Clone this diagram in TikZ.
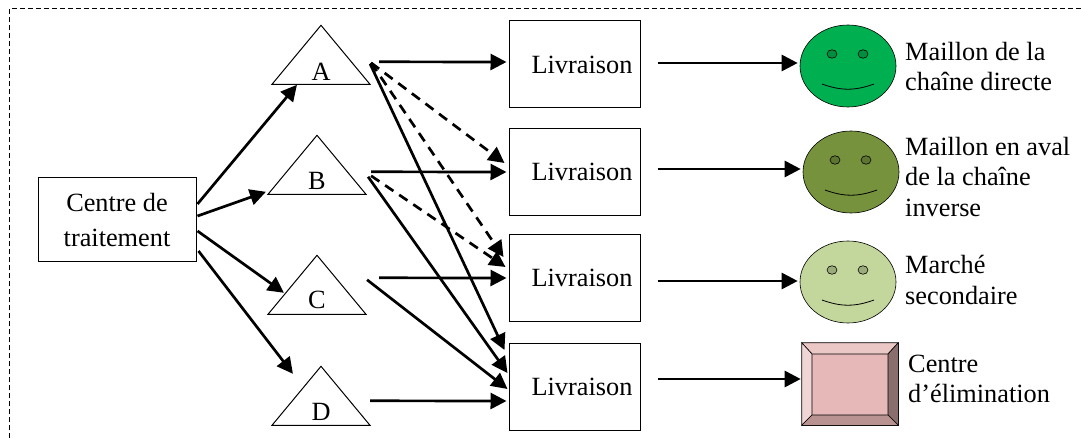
\documentclass[tikz,border=0pt]{standalone}
\usepackage{fontspec}
\setmainfont{Liberation Serif}
\usetikzlibrary{arrows.meta,positioning,calc,shapes.geometric}
\tikzset{>={Triangle[length=16pt,width=16pt]}}
\definecolor{facegreen}{HTML}{00B050}
\definecolor{eyegreen}{HTML}{008D40}
\definecolor{faceolive}{HTML}{76923C}
\definecolor{eyeolive}{HTML}{5E7530}
\definecolor{facepale}{HTML}{C3D69B}
\definecolor{eyepale}{HTML}{9CAB7C}
\definecolor{elimface}{HTML}{E6B9B8}
\definecolor{elimtop}{HTML}{EBC7C6}
\definecolor{elimleft}{HTML}{F0D5D5}
\definecolor{elimright}{HTML}{8A6E6E}
\definecolor{elimbottom}{HTML}{B89392}
\tikzset{
  box/.style={draw,line width=1pt,inner sep=0pt,align=center,font=\fontsize{26.3}{35}\selectfont},
  tri/.style={draw,line width=1pt,isosceles triangle,isosceles triangle stretches,shape border rotate=90,inner sep=0pt,minimum width=98pt,minimum height=59pt,anchor=apex},
  letter/.style={inner sep=0pt,font=\fontsize{26.3}{30}\selectfont},
  face/.style={draw,line width=0.6pt,ellipse,inner sep=0pt,minimum width=96pt,minimum height=82pt},
  eye/.style={draw,line width=0.6pt,ellipse,inner sep=0pt,minimum width=10pt,minimum height=8.5pt},
  txt/.style={anchor=west,inner sep=0pt,align=left,font=\fontsize{26.3}{30.5}\selectfont},
  flow/.style={->,line width=2.7pt},
  flowdash/.style={->,line width=2.7pt,dash pattern=on 10pt off 7pt},
}

\begin{document}
\begin{tikzpicture}[x=1pt,y=-1pt]
\useasboundingbox (0,0) rectangle (1081,438);

\coordinate (frame bl) at (9,438);
\coordinate (frame tl) at (9,9);
\coordinate (frame tr) at (1081,9);
\draw[line width=1pt,dash pattern=on 5pt off 3pt] (frame bl) -- (frame tl) -- (frame tr);

\node [box,minimum width=158pt,minimum height=84pt] (ctr) at (117,220) {Centre de\\traitement};

\node [tri] (a) at (321,24) {};
\node [tri] (b) at (317,134) {};
\node [tri] (c) at (317,254) {};
\node [tri] (d) at (321,365) {};
\node [letter] (la) at (321,72) {A};
\node [letter] (lb) at (317,181) {B};
\node [letter] (lc) at (317,300) {C};
\node [letter] (ld) at (321,412) {D};

\node [box,minimum width=131pt,minimum height=87pt] (liv1) at (574.5,64.5) {\hspace*{15pt}Livraison};
\node [box,minimum width=131pt,minimum height=87pt] (liv2) at (574.5,172) {\hspace*{15pt}Livraison};
\node [box,minimum width=131pt,minimum height=87pt] (liv3) at (574.5,278) {\hspace*{15pt}Livraison};
\node [box,minimum width=131pt,minimum height=87pt] (liv4) at (574.5,386.5) {\hspace*{15pt}Livraison};

\node [face,fill=facegreen] (f1) at (848,66) {};
\node [eye,fill=eyegreen] (f1l) at (832,54) {};
\node [eye,fill=eyegreen] (f1r) at (863,54) {};
\draw[line width=0.8pt] ($(f1)+(-26,18)$) coordinate (m1a) to[bend right=20] ($(f1)+(26,18)$) coordinate (m1b);

\node [face,fill=faceolive] (f2) at (851,172) {};
\node [eye,fill=eyeolive] (f2l) at (835,160) {};
\node [eye,fill=eyeolive] (f2r) at (866,160) {};
\draw[line width=0.8pt] ($(f2)+(-26,18)$) coordinate (m2a) to[bend right=20] ($(f2)+(26,18)$) coordinate (m2b);

\node [face,fill=facepale] (f3) at (848,282) {};
\node [eye,fill=eyepale] (f3l) at (832,270) {};
\node [eye,fill=eyepale] (f3r) at (863,270) {};
\draw[line width=0.8pt] ($(f3)+(-26,18)$) coordinate (m3a) to[bend right=20] ($(f3)+(26,18)$) coordinate (m3b);

\node [draw,line width=0.6pt,fill=elimface,inner sep=0pt,minimum width=96pt,minimum height=82pt] (elim) at (850,384) {};
\coordinate (in nw) at (812,354);
\coordinate (in ne) at (888,354);
\coordinate (in se) at (888,415);
\coordinate (in sw) at (812,415);
\filldraw[fill=elimtop,line width=0.6pt] (elim.north west) -- (elim.north east) -- (in ne) -- (in nw) -- cycle;
\filldraw[fill=elimleft,line width=0.6pt] (elim.north west) -- (in nw) -- (in sw) -- (elim.south west) -- cycle;
\filldraw[fill=elimright,line width=0.6pt] (elim.north east) -- (in ne) -- (in se) -- (elim.south east) -- cycle;
\filldraw[fill=elimbottom,line width=0.6pt] (elim.south west) -- (in sw) -- (in se) -- (elim.south east) -- cycle;

\node [txt] (t1) at (905,66.5) {Maillon de la\\chaîne directe};
\node [txt] (t2) at (905,177) {Maillon en aval\\de la chaîne\\inverse};
\node [txt] (t3) at (905,280) {Marché\\secondaire};
\node [txt] (t4) at (908,379) {Centre\\d’élimination};

\begin{scope}[line width=2.7pt]
\draw[flow] ([shift={(1,-16)}]ctr.east) to ([shift={(26,0)}]a.left corner);
\draw[flow] ([shift={(1,-4)}]ctr.east) to ([shift={(-1,-3)}]b.left corner);
\draw[flow] ([shift={(1,11)}]ctr.east) to ([shift={(17,-22)}]c.left corner);
\draw[flow] ([shift={(2,31)}]ctr.east) to ([shift={(22,-52)}]d.left corner);

\draw[flow] ([shift={(8,-23)}]a.right corner) to ([shift={(-2,-2.5)}]liv1.west);
\draw[flow] ([shift={(4,-23)}]b.right corner) to ([shift={(-2,0)}]liv2.west);
\draw[flow] ([shift={(12,-37)}]c.right corner) to ([shift={(-2,0)}]liv3.west);
\draw[flow] ([shift={(-1,-25)}]d.right corner) to ([shift={(-2,14.5)}]liv4.west);

\draw[flow] ([shift={(17,-1.5)}]liv1.east) to ([shift={(-2,-3)}]f1.west);
\draw[flow] ([shift={(17,-3)}]liv2.east) to ([shift={(-2,-3)}]f2.west);
\draw[flow] ([shift={(17,3)}]liv3.east) to ([shift={(-2,-1)}]f3.west);
\draw[flow] ([shift={(17,-7.5)}]liv4.east) to ([shift={(-1,-5)}]elim.west);

\draw[flowdash] ([shift={(0,-22)}]a.right corner) to ([shift={(-4,-9)}]liv2.west);
\draw[flowdash] ([shift={(0,-22)}]a.right corner) to ([shift={(-5,-21)}]liv3.west);
\draw[flowdash] ([shift={(4,-19)}]b.right corner) to ([shift={(-3,-11)}]liv3.west);

\draw[flow] ([shift={(-1,-21)}]a.right corner) to ([shift={(-4,-36.5)}]liv4.west);
\draw[flow] ([shift={(1,-18)}]b.right corner) to ([shift={(-1,-13.5)}]liv4.west);
\draw[flow] ([shift={(0,-35)}]c.right corner) to ([shift={(-1,2.5)}]liv4.west);
\end{scope}

\end{tikzpicture}
\end{document}
